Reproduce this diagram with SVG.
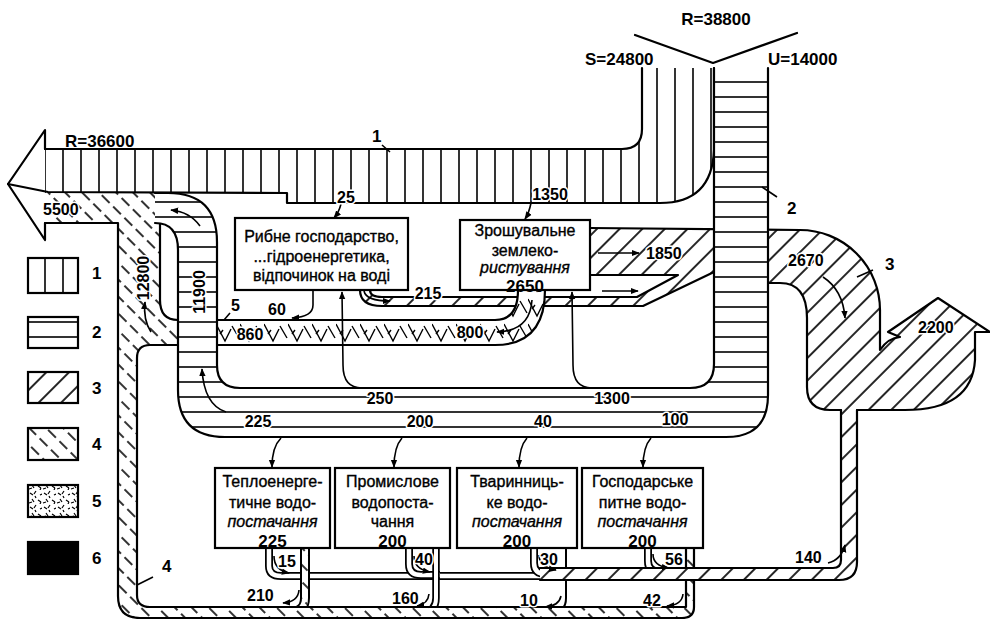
<svg xmlns="http://www.w3.org/2000/svg" width="990" height="619" viewBox="0 0 990 619">
<style>
.o{fill:none;stroke:#000;stroke-width:2.2;stroke-linejoin:round;stroke-linecap:round}
.a{fill:none;stroke:#000;stroke-width:1.6;marker-end:url(#ah)}
.n{font-family:"Liberation Sans",Arial,sans-serif;font-size:16px;font-weight:bold;fill:#000;paint-order:stroke;stroke:#fff;stroke-width:3px;stroke-linejoin:round}
.nb{font-family:"Liberation Sans",Arial,sans-serif;font-size:17px;font-weight:bold;fill:#000}
.bx{fill:#fff;stroke:#000;stroke-width:2.2}
.bt{font-family:"Liberation Sans",Arial,sans-serif;font-size:16px;fill:#000;stroke:#000;stroke-width:0.35;text-anchor:middle}
.i{font-style:italic}
.m{text-anchor:middle}
.w{fill:#fff}
</style>
<defs>
<marker id="ah" viewBox="0 0 10 10" refX="9" refY="5" markerWidth="8" markerHeight="8" markerUnits="userSpaceOnUse" orient="auto"><path d="M0,1 L10,5 L0,9 Z" fill="#000"/></marker>
<pattern id="p1" patternUnits="userSpaceOnUse" width="18" height="10"><line x1="9" y1="0" x2="9" y2="10" stroke="#000" stroke-width="1.6"/></pattern>
<pattern id="p2" patternUnits="userSpaceOnUse" width="10" height="15"><line x1="0" y1="7" x2="10" y2="7" stroke="#000" stroke-width="1.6"/></pattern>
<pattern id="p3" patternUnits="userSpaceOnUse" width="16" height="16" patternTransform="rotate(45)"><line x1="8" y1="0" x2="8" y2="16" stroke="#000" stroke-width="1.7"/></pattern>
<pattern id="p4" patternUnits="userSpaceOnUse" width="12" height="16" patternTransform="rotate(-45)"><line x1="6" y1="2" x2="6" y2="13" stroke="#000" stroke-width="1.6"/></pattern>
<pattern id="p5" patternUnits="userSpaceOnUse" width="14" height="14"><path d="M2,3 l3,2 M8,1 l-2,3 M12,5 l2,-1 M4,9 l2,3 M10,10 l3,2 M13,12 l-1,2 M1,13 l3,-1 M7,6 l1,2" stroke="#000" stroke-width="1.2" fill="none"/></pattern>
<pattern id="p6" patternUnits="userSpaceOnUse" width="24" height="25" y="320"><path d="M0,4 L9,21 L15,9 M16,6 L23,18 M4,14 L7,10" stroke="#000" stroke-width="1.4" fill="none"/></pattern>
<path id="s1" d="M45,149 L622,149 Q642,149 642,129 L642,68 L714,68 L714,150 Q712,203 660,203 L287,203 L287,193 L45,193 Z"/>
<path id="s2" d="M714,68 L768,68 L768,395 Q768,437 726,437 L225,437 Q178,437 178,390 L178,250 Q178,223 155,223 L155,193 L168,193 Q217,193 217,242 L217,365 Q217,388 240,388 L690,388 Q714,388 714,364 Z"/>
<path id="s3" d="M590,228 L800,230 A80,80 0 0 1 880,310 L880,350 Q888,338 900,337 L888,332 L938,298 L990,332 L975,332 L975,360 Q972,410 905,410 L830,410 Q807,410 807,387 L807,318 Q807,283 780,283 L714,283 L714,272 L643,306 L382,306 Q360,306 360,290 L370,290 Q370,297 382,297 L637,297 L678,275 L590,275 Z"/>
<path id="s4" d="M45,193 L172,193 L172,218 L160,218 L160,300 Q160,320 180,320 L180,345 L150,345 Q137,345 137,358 L137,595 Q137,607 150,607 L686,607 L686,548 L694,548 L694,607 Q694,618 682,618 L140,618 Q118,618 118,596 L118,223 L45,223 Z"/>
<path id="s5" d="M200,320 L495,320 Q518,320 518,290 L545,290 Q545,345 495,345 L200,345 Z"/>
<path id="s6" d="M540,568 L833,568 Q841,568 841,560 L841,410 L857,410 L857,562 Q857,580 839,580 L540,580 Z"/>
</defs>
<rect width="990" height="619" fill="#fff"/>

<g id="connectors">
<g id="pipes">
<path d="M269,548 L269,566 Q269,576 281,576 L545,576" fill="none" stroke="#000" stroke-width="8"/>
<path d="M269,546 L269,566 Q269,576 281,576 L545,576" fill="none" stroke="#fff" stroke-width="4.5"/>
<path d="M409,548 L409,564 Q409,575 421,575 L440,575" fill="none" stroke="#000" stroke-width="8"/>
<path d="M409,546 L409,564 Q409,575 421,575 L440,575" fill="none" stroke="#fff" stroke-width="4.5"/>
<path d="M305,548 L305,598 Q305,612 290,612" fill="none" stroke="#000" stroke-width="10"/>
<path d="M305,546 L305,598 Q305,612 290,612" fill="none" stroke="#fff" stroke-width="6"/>
<path d="M305,546 L305,598 Q305,612 290,612" fill="none" stroke="url(#p4)" stroke-width="6"/>
<path d="M436,548 L436,598 Q436,612 422,612" fill="none" stroke="#000" stroke-width="7.5"/>
<path d="M436,546 L436,598 Q436,612 422,612" fill="none" stroke="#fff" stroke-width="4"/>
<path d="M566,548 L566,598 Q566,612 552,612" fill="none" stroke="#000" stroke-width="2"/>
<path d="M534,548 L534,563 Q534,574 546,574 L560,574" fill="none" stroke="#000" stroke-width="8"/>
<path d="M534,546 L534,563 Q534,574 546,574 L560,574" fill="none" stroke="#fff" stroke-width="4.5"/>
<path d="M648,548 L648,561 Q648,572 660,572 L675,572" fill="none" stroke="#000" stroke-width="8"/>
<path d="M648,546 L648,561 Q648,572 660,572 L675,572" fill="none" stroke="#fff" stroke-width="4.5"/>
</g>

<g id="flow4">
<use href="#s4" class="w"/><use href="#s4" fill="url(#p4)"/>
<path class="o" d="M45,223 L118,223 L118,596 Q118,618 140,618 L682,618 Q694,618 694,607 L694,548"/>
<path class="o" d="M686,548 L686,607 L150,607 Q137,607 137,595 L137,358 Q137,345 150,345 L178,345"/>
<path class="o" d="M160,223 L160,300 Q160,320 178,320"/>
</g>

<g id="flow1">
<use href="#s1" class="w"/><use href="#s1" fill="url(#p1)"/>
<path class="o" d="M45,149 L622,149 Q642,149 642,129 L642,68"/>
<path class="o" d="M714,68 L714,150 Q712,203 660,203 L287,203 L287,193 L48,192 L8,184"/>
<path class="o" d="M45,149 L45,130 L8,184 L45,240 L45,223"/>
</g>

<g id="flow3">
<use href="#s3" class="w"/><use href="#s3" fill="url(#p3)"/>
<path class="o" d="M590,228 L800,230 A80,80 0 0 1 880,310 L880,350 Q888,338 900,337 L888,332 L938,298 L990,332 L975,332 L975,360 Q972,410 905,410 L857,410"/>
<path class="o" d="M841,410 L830,410 Q807,410 807,387 L807,318 Q807,283 780,283 L768,283"/>
<path class="o" d="M590,275 L678,275 L637,297 L382,297 Q370,297 370,290"/>
<path class="o" d="M360,290 Q360,306 382,306 L643,306 L714,272"/>
</g>

<g id="flow5">
<use href="#s5" class="w"/><use href="#s5" fill="url(#p6)"/>
<path class="o" d="M217,320 L495,320 Q518,320 518,290"/>
<path class="o" d="M545,290 Q545,345 495,345 L217,345"/>
</g>

<g id="flow2">
<use href="#s2" class="w"/><use href="#s2" fill="url(#p2)"/>
<path class="o" d="M768,68 L768,395 Q768,437 726,437 L225,437 Q178,437 178,390 L178,250 Q178,223 155,223"/>
<path class="o" d="M155,193 L168,193 Q217,193 217,242 L217,365 Q217,388 240,388 L690,388 Q714,388 714,364 L714,68"/>
</g>

<g id="flow140">
<use href="#s6" class="w"/><use href="#s6" fill="url(#p3)"/>
<path class="o" d="M540,568 L833,568 Q841,568 841,560 L841,410"/>
<path class="o" d="M857,410 L857,562 Q857,580 839,580 L540,580"/>
</g>

<path class="o" d="M635,35 L713,63 L797,33"/>

<g id="arrows">
<path class="a" d="M341,204 Q339,212 334,218"/>
<path class="a" d="M531,203 Q529,213 525,219"/>
<path class="a" d="M281,438 Q272,447 272,467"/>
<path class="a" d="M402,438 Q394,447 394,467"/>
<path class="a" d="M527,438 Q519,447 519,467"/>
<path class="a" d="M651,438 Q643,447 643,467"/>
<path class="a" d="M362,388 Q343,388 343,365 L342,292"/>
<path class="a" d="M592,388 Q573,388 573,365 L572,292"/>
<path class="a" d="M313,291 L313,305 Q313,317 292,318"/>
<path class="a" d="M364,291 Q366,301 390,301"/>
<path class="a" d="M598,253 L639,253"/>
<path class="a" d="M602,291 L638,291"/>
<path class="a" d="M532,300 Q530,331 497,332"/>
<path class="a" d="M823,277 Q843,290 845,318"/>
<path class="a" d="M226,412 Q204,405 202,369"/>
<path class="a" d="M200,226 Q190,212 171,210"/>
<path class="a" d="M151,332 Q143,320 145,302"/>
<path class="a" d="M274,556 Q274,570 289,573"/>
<path class="a" d="M414,556 Q414,569 430,572"/>
<path class="a" d="M539,555 Q539,567 556,570"/>
<path class="a" d="M653,554 Q653,566 669,568"/>
<path class="a" d="M828,563 Q841,560 845,545"/>
<path class="a" d="M299,590 Q298,602 283,603"/>
<path class="a" d="M429,594 Q428,604 417,606"/>
<path class="a" d="M561,596 Q559,606 545,607"/>
<path class="a" d="M683,594 Q682,605 667,606"/>
<path d="M224,320 L230,313 M382,145 L390,152 M762,187 L777,197 M857,277 L873,270 M153,577 L137,585" fill="none" stroke="#000" stroke-width="1.6"/>
</g>
</g>

<g id="node-ryb">
<rect class="bx" x="235" y="218" width="173" height="72"/>
<text class="bt" x="321.5" y="242" font-size="17.5">Рибне господарство,</text>
<text class="bt" x="321.5" y="262" font-size="17.5">...гідроенергетика,</text>
<text class="bt" x="321.5" y="281" font-size="17.5">відпочинок на воді</text>
</g>
<g id="node-zrosh">
<rect class="bx" x="460" y="220" width="130" height="70"/>
<text class="bt" x="525" y="236" font-size="17.5">Зрошувальне</text>
<text class="bt" x="525" y="256" font-size="17.5">землеко-</text>
<text class="bt i" x="525" y="273" font-size="17.5">ристування</text>
<text class="nb m" x="525" y="292" font-size="16">2650</text>
</g>
<g id="node-teplo">
<rect class="bx" x="215" y="468" width="115" height="80"/>
<text class="bt" x="272.5" y="487">Теплоенерге-</text>
<text class="bt" x="272.5" y="508">тичне водо-</text>
<text class="bt i" x="272.5" y="527">постачання</text>
<text class="nb m" x="272.5" y="547" font-size="16">225</text>
</g>
<g id="node-prom">
<rect class="bx" x="335" y="468" width="115" height="80"/>
<text class="bt" x="392.5" y="487">Промислове</text>
<text class="bt" x="392.5" y="508">водопоста-</text>
<text class="bt" x="392.5" y="527">чання</text>
<text class="nb m" x="392.5" y="547" font-size="16">200</text>
</g>
<g id="node-tvar">
<rect class="bx" x="457" y="468" width="120" height="80"/>
<text class="bt" x="517" y="487">Тваринниць-</text>
<text class="bt" x="517" y="508">ке водо-</text>
<text class="bt i" x="517" y="527">постачання</text>
<text class="nb m" x="517" y="547" font-size="16">200</text>
</g>
<g id="node-gosp">
<rect class="bx" x="582" y="468" width="121" height="80"/>
<text class="bt" x="642.5" y="487">Господарське</text>
<text class="bt" x="642.5" y="508">питне водо-</text>
<text class="bt i" x="642.5" y="527">постачання</text>
<text class="nb m" x="642.5" y="547" font-size="16">200</text>
</g>

<g id="legend">
<rect x="28" y="258" width="50" height="35" fill="url(#p1)" stroke="#000" stroke-width="2.2"/>
<rect x="28" y="317" width="50" height="31" fill="url(#p2)" stroke="#000" stroke-width="2.2"/>
<rect x="28" y="372" width="50" height="31" fill="url(#p3)" stroke="#000" stroke-width="2.2"/>
<rect x="28" y="428" width="50" height="32" fill="url(#p4)" stroke="#000" stroke-width="2.2"/>
<rect x="28" y="485" width="50" height="32" fill="url(#p5)" stroke="#000" stroke-width="2.2"/>
<rect x="28" y="542" width="50" height="32" fill="#000" stroke="#000" stroke-width="2.2"/>
<text class="nb" x="92" y="279" font-size="16">1</text>
<text class="nb" x="92" y="338" font-size="16">2</text>
<text class="nb" x="92" y="394" font-size="16">3</text>
<text class="nb" x="92" y="450" font-size="16">4</text>
<text class="nb" x="92" y="507" font-size="16">5</text>
<text class="nb" x="92" y="564" font-size="16">6</text>
</g>

<g id="labels">
<text class="nb m" x="716" y="25" font-size="17.5">R=38800</text>
<text class="nb" x="585" y="65" font-size="17.5">S=24800</text>
<text class="nb" x="768" y="65" font-size="17.5">U=14000</text>
<text class="nb" x="65" y="147" font-size="17.5">R=36600</text>
<text class="nb" x="372" y="142">1</text>
<text class="nb" x="787" y="214">2</text>
<text class="nb" x="885" y="270">3</text>
<text class="nb" x="162" y="572">4</text>
<text class="n m" x="346" y="203">25</text>
<text class="n m" x="550" y="200">1350</text>
<text class="n" x="43" y="215">5500</text>
<text class="n m" transform="translate(149,278) rotate(-90)">12800</text>
<text class="n m" transform="translate(205,292) rotate(-90)">11900</text>
<text class="n" x="231" y="311">5</text>
<text class="n m" x="277" y="315">60</text>
<text class="n m" x="250" y="340">860</text>
<text class="n m" x="470" y="338">800</text>
<text class="n m" x="428" y="299">215</text>
<text class="n" x="646" y="259">1850</text>
<text class="n" x="788" y="266" font-size="17">2670</text>
<text class="n" x="918" y="333">2200</text>
<text class="n m" x="380" y="404">250</text>
<text class="n m" x="612" y="404">1300</text>
<text class="n m" x="258" y="427">225</text>
<text class="n m" x="420" y="427">200</text>
<text class="n m" x="543" y="427">40</text>
<text class="n m" x="675" y="425">100</text>
<text class="n" x="278" y="567">15</text>
<text class="n" x="415" y="565">40</text>
<text class="n" x="540" y="565">30</text>
<text class="n" x="665" y="565">56</text>
<text class="n" x="795" y="563">140</text>
<text class="n" x="247" y="601">210</text>
<text class="n" x="392" y="604">160</text>
<text class="n" x="520" y="606">10</text>
<text class="n" x="643" y="606">42</text>
</g>
</svg>
